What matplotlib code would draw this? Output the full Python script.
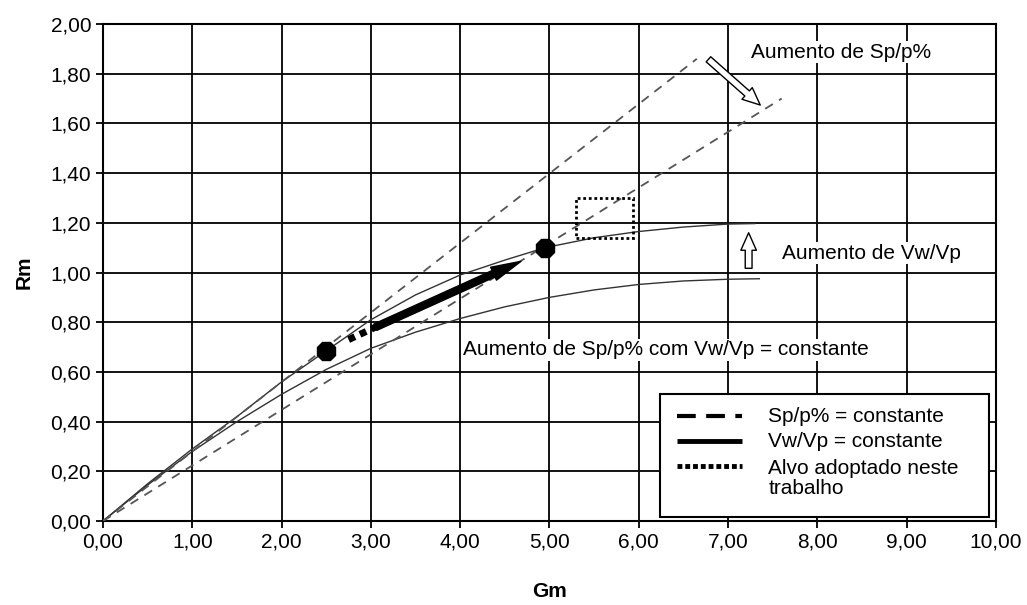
import matplotlib.pyplot as plt
from matplotlib.patches import Rectangle
from matplotlib.lines import Line2D
from matplotlib.ticker import FuncFormatter

plt.rcParams['font.family'] = ['Liberation Sans', 'DejaVu Sans']

# Vw/Vp = constante (two curves)
g_high = [0, 0.5, 1, 1.5, 2, 2.5, 3, 3.5, 4, 4.5, 4.95, 5.5, 6, 6.5, 7, 7.3]
r_high = [0, 0.15, 0.29, 0.42, 0.56, 0.685, 0.81, 0.91, 0.99, 1.05, 1.10, 1.14, 1.165, 1.183, 1.195, 1.197]
g_low = [0, 0.5, 1, 1.5, 2, 2.5, 3, 3.5, 4, 4.5, 5, 5.5, 6, 6.5, 7, 7.35]
r_low = [0, 0.145, 0.28, 0.40, 0.51, 0.61, 0.695, 0.76, 0.815, 0.862, 0.90, 0.93, 0.952, 0.966, 0.973, 0.975]

# Sp/p% = constante (two straight lines)
g_sp1 = [0, 6.65]
r_sp1 = [0, 1.86]
g_sp2 = [0, 7.6]
r_sp2 = [0, 1.70]

# intersection points
g_pts = [2.5, 4.95]
r_pts = [0.685, 1.10]

# target box (alvo)
box_g = [5.30, 5.93]
box_r = [1.14, 1.30]

fig = plt.figure(figsize=(10.27, 6.05), dpi=100)
ax = fig.add_axes([0.1003, 0.1388, 0.8695, 0.8215])

ax.plot(g_high, r_high, color='#333333', lw=1.0, zorder=3)
ax.plot(g_low, r_low, color='#333333', lw=1.0, zorder=3)
ax.plot(g_sp1, r_sp1, color='#555555', lw=1.3, ls=(0, (5, 4)), zorder=3)
ax.plot(g_sp2, r_sp2, color='#555555', lw=1.3, ls=(0, (5, 4)), zorder=3)
ax.plot(g_pts, r_pts, ls='none', marker='8', ms=14, color='black', zorder=5)

# target rectangle
ax.add_patch(Rectangle((box_g[0], box_r[0]), box_g[1] - box_g[0], box_r[1] - box_r[0],
                       fill=False, ec='black', lw=2, ls=(0, (1, 1)), zorder=4))

# thick arrow along the curve, with dotted tail
ax.plot([2.75, 3.05], [0.73, 0.78], color='black', lw=5, ls=(0, (1, 0.8)), zorder=4,
        solid_capstyle='butt', dash_capstyle='butt')
ax.annotate('', xy=(4.68, 1.045), xytext=(3.05, 0.78),
            arrowprops=dict(arrowstyle='simple,head_length=1.8,head_width=0.85,tail_width=0.42',
                            fc='black', ec='black', mutation_scale=12, shrinkA=0, shrinkB=0),
            zorder=4)

# hollow arrows
ax.annotate('', xy=(7.36, 1.674), xytext=(6.78, 1.858),
            arrowprops=dict(arrowstyle='simple,head_length=0.9,head_width=0.8,tail_width=0.35',
                            fc='white', ec='black', lw=1, mutation_scale=14, shrinkA=0, shrinkB=0),
            zorder=4)
ax.annotate('', xy=(7.23, 1.16), xytext=(7.23, 1.017),
            arrowprops=dict(arrowstyle='simple,head_length=0.9,head_width=0.8,tail_width=0.35',
                            fc='white', ec='black', lw=1, mutation_scale=14, shrinkA=0, shrinkB=0),
            zorder=4)

fs = 15
ax.text(7.26, 1.887, 'Aumento de Sp/p%', fontsize=fs, va='center', ha='left',
        bbox=dict(fc='white', ec='none', pad=1), zorder=4)
ax.text(7.6, 1.078, 'Aumento de Vw/Vp', fontsize=fs, va='center', ha='left',
        bbox=dict(fc='white', ec='none', pad=1), zorder=4)
ax.text(4.03, 0.69, 'Aumento de Sp/p% com Vw/Vp = constante', fontsize=fs, va='center', ha='left',
        bbox=dict(fc='white', ec='none', pad=1), zorder=4)

# legend drawn by hand
lx0, ly0, lw_, lh_ = 0.624, 0.008, 0.368, 0.247
ax.add_patch(Rectangle((lx0, ly0), lw_, lh_, transform=ax.transAxes,
                       fc='white', ec='black', lw=1.5, zorder=6))
rows = [0.211, 0.161, 0.111]
styles = [dict(ls=(0, (4.5, 2.5)), lw=3), dict(ls='-', lw=3.5), dict(ls=(0, (1, 0.6)), lw=3.5)]
labels = ['Sp/p% = constante', 'Vw/Vp = constante', 'Alvo adoptado neste\ntrabalho']
for yy, st, lab in zip(rows, styles, labels):
    ax.add_line(Line2D([0.643, 0.716], [yy, yy], color='black', transform=ax.transAxes,
                       zorder=7, solid_capstyle='butt', dash_capstyle='butt', **st))
    ax.text(0.745, yy, lab, transform=ax.transAxes, fontsize=fs, va='center',
            ha='left', zorder=7, linespacing=1.1)
# multi-line label: first line sits on the handle
ax.texts[-1].set_y(rows[2] - 0.025)

ax.set_xlim(0, 10)
ax.set_ylim(0, 2)
ax.set_xticks([i for i in range(11)])
ax.set_yticks([i * 0.2 for i in range(11)])
ax.xaxis.set_major_formatter(FuncFormatter(lambda v, p: f'{v:.2f}'.replace('.', ',')))
ax.yaxis.set_major_formatter(FuncFormatter(lambda v, p: f'{v:.2f}'.replace('.', ',')))
ax.tick_params(direction='out', length=5, width=1.3, labelsize=fs, colors='black')
ax.grid(True, color='black', lw=1.3)
ax.set_axisbelow(True)
for s in ax.spines.values():
    s.set_linewidth(1.5)

ax.set_xlabel('Gm', fontsize=fs, fontweight='bold', labelpad=22)
ax.set_ylabel('Rm', fontsize=fs, fontweight='bold', labelpad=12)

fig.savefig('out.png', dpi=100)
